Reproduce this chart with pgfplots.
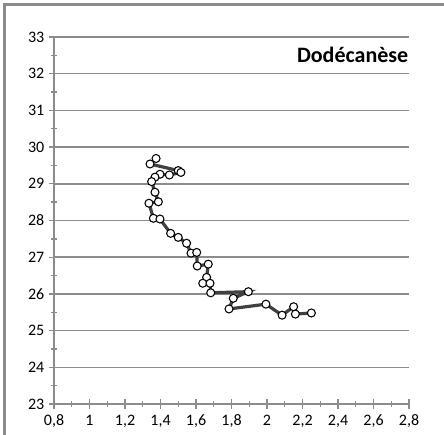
\documentclass[border=0pt]{standalone}
\usepackage{pgfplots}
\pgfplotsset{compat=1.18}
\usepackage{fontspec}
\setmainfont{Carlito}
\definecolor{gridg}{HTML}{8C8C8C}
\definecolor{lineg}{HTML}{404040}
\begin{document}
\begin{tikzpicture}
\begin{axis}[
  at={(0,0)}, anchor=south west,
  width=266.25pt, height=275.25pt, scale only axis,
  xmin=0.8, xmax=2.8, ymin=23, ymax=33,
  xtick={0.8,1,...,2.8}, ytick={23,24,...,33},
  minor x tick num=1, minor y tick num=1,
  axis x line*=bottom, axis y line*=left,
  axis line style={gridg, line width=1.1pt, -},
  tick align=center,
  major tick length=7.5pt, minor tick length=4pt,
  every tick/.style={gridg, line width=1pt},
  ymajorgrids, major grid style={gridg, line width=1.1pt},
  /pgf/number format/use comma,
  /pgf/number format/assume math mode=true,
  tick label style={font=\fontsize{12}{14}\selectfont},
  xticklabel style={yshift=-1pt},
  clip=false,
]
\addplot[lineg, line width=2.4pt, mark=*, mark size=3pt,
  mark options={fill=white, draw=black, line width=0.8pt}] coordinates {
(1.375,29.69)
(1.341,29.54)
(1.500,29.36)
(1.515,29.31)
(1.450,29.24)
(1.397,29.26)
(1.369,29.18)
(1.350,29.06)
(1.369,28.77)
(1.388,28.51)
(1.335,28.47)
(1.360,28.06)
(1.397,28.04)
(1.457,27.65)
(1.500,27.54)
(1.547,27.38)
(1.572,27.11)
(1.604,27.13)
(1.607,26.76)
(1.669,26.81)
(1.660,26.45)
(1.638,26.29)
(1.679,26.29)
(1.683,26.03)
(1.895,26.06)
(1.810,25.88)
(1.786,25.59)
(1.994,25.72)
(2.085,25.42)
(2.150,25.65)
(2.160,25.45)
(2.250,25.48)
};
\node[anchor=north east, font=\fontsize{16.5}{18}\selectfont\bfseries] at (rel axis cs:1,1) [yshift=-4pt, xshift=3pt] {Dodécanèse};
\end{axis}
\draw[gridg, line width=2.25pt] (-36.75pt,-23.25pt) -- (-36.75pt,299.25pt) -- (292.5pt,299.25pt);
\pgfresetboundingbox
\path[use as bounding box] (-40.5pt,-23.25pt) rectangle (292.5pt,303pt);
\end{tikzpicture}
\end{document}
